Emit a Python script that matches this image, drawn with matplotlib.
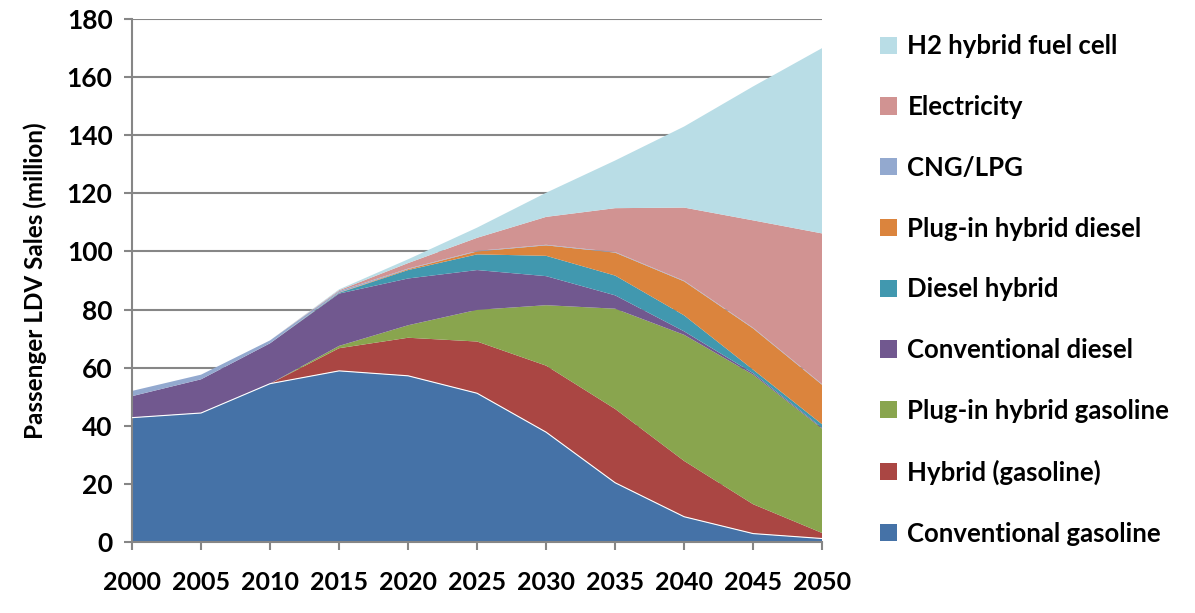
import matplotlib.pyplot as plt
from matplotlib.patches import Patch

plt.rcParams['font.family'] = ['Lato', 'DejaVu Sans']
plt.rcParams['font.weight'] = 'bold'

years = [2000, 2005, 2010, 2015, 2020, 2025, 2030, 2035, 2040, 2045, 2050]

conv_gasoline = [42.8, 44.4, 54.5, 58.9, 57.2, 51.2, 37.8, 20.4, 8.7, 2.9, 1.2]
hybrid_gasoline = [0, 0, 0, 7.8, 13.1, 17.8, 22.9, 25.4, 19.2, 10.1, 1.9]
plugin_gasoline = [0, 0, 0, 0.8, 4.3, 10.9, 20.8, 34.5, 43.4, 44.6, 35.9]
conv_diesel = [7.4, 11.6, 13.9, 18.0, 16.1, 13.7, 10.0, 4.6, 1.2, 0.5, 0.3]
diesel_hybrid = [0, 0, 0, 0.25, 2.9, 5.4, 7.0, 6.8, 5.5, 1.2, 1.2]
plugin_diesel = [0, 0, 0, 0.1, 0.3, 1.0, 3.6, 7.9, 11.7, 14.2, 13.6]
cng_lpg = [1.8, 1.6, 1.0, 0.5, 0.2, 0.2, 0.2, 0.2, 0.2, 0.2, 0.2]
electricity = [0, 0, 0, 0.3, 1.9, 4.5, 9.6, 15.1, 25.2, 37.0, 51.9]
h2_fuel_cell = [0, 0, 0, 0.3, 1.3, 3.5, 8.3, 16.4, 27.9, 46.1, 63.8]

labels = ['Conventional gasoline', 'Hybrid (gasoline)', 'Plug-in hybrid gasoline',
          'Conventional diesel', 'Diesel hybrid', 'Plug-in hybrid diesel',
          'CNG/LPG', 'Electricity', 'H2 hybrid fuel cell']
colors = ['#4572A7', '#AA4643', '#89A54E', '#71588F', '#4198AF',
          '#DB843D', '#93A9CF', '#D19392', '#B9DDE6']

series = [conv_gasoline, hybrid_gasoline, plugin_gasoline, conv_diesel,
          diesel_hybrid, plugin_diesel, cng_lpg, electricity, h2_fuel_cell]

fig = plt.figure(figsize=(11.95, 6.13), dpi=100)
ax = fig.add_axes([0.1105, 0.1158, 0.5775, 0.8532])

polys = ax.stackplot(years, *series, colors=colors, linewidth=0)
# thin white line on top of the conventional gasoline area
ax.plot(years, conv_gasoline, color='white', lw=0.8, zorder=3)

grey = '#868686'
ax.set_xlim(2000, 2050)
ax.set_ylim(0, 180)
ax.set_xticks(years)
ax.set_yticks(range(0, 181, 20))
ax.yaxis.grid(True, color=grey, lw=1.5)
ax.set_axisbelow(True)
for s in ['top', 'right']:
    ax.spines[s].set_visible(False)
for s in ['left', 'bottom']:
    ax.spines[s].set_color(grey)
    ax.spines[s].set_linewidth(1.5)
ax.tick_params(axis='both', colors=grey, width=1.5, length=6, labelcolor='black')
ax.tick_params(axis='x', pad=15, labelsize=18)
ax.tick_params(axis='y', pad=8, labelsize=19)
ax.set_ylabel('Passenger LDV Sales (million)', fontsize=17.5, fontweight='bold',
              labelpad=14)

handles = [Patch(facecolor=c, edgecolor='none') for c in colors]
fig.legend(handles[::-1], labels[::-1], loc='center left',
           bbox_to_anchor=(0.726, 0.527), frameon=False,
           prop={'size': 18.5, 'weight': 'bold'},
           handlelength=0.65, handleheight=0.65, handletextpad=0.4,
           labelspacing=1.43, borderpad=0)

fig.savefig('out.png', dpi=100)
